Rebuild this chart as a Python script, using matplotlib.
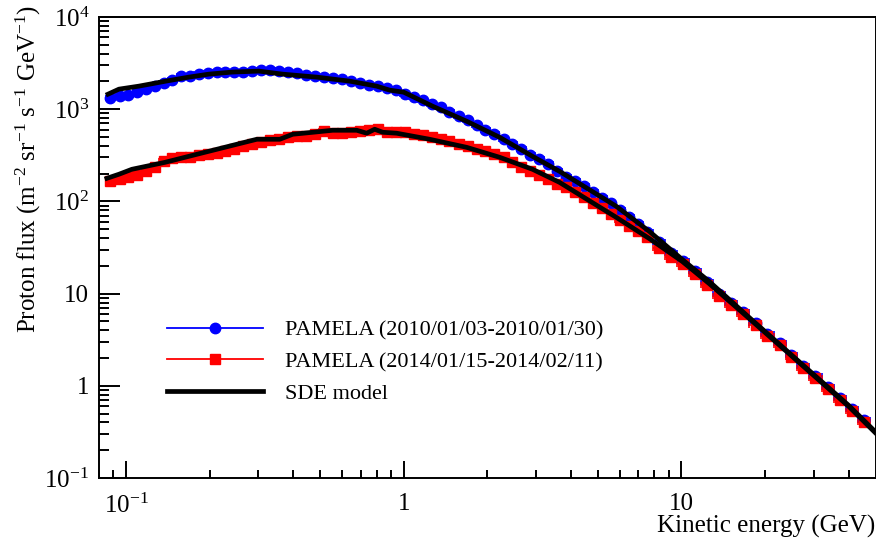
import numpy as np
import matplotlib
matplotlib.use("Agg")
import matplotlib.pyplot as plt
from matplotlib.lines import Line2D
from matplotlib.ticker import FixedLocator, FixedFormatter, LogLocator, NullFormatter

plt.rcParams['font.family'] = ['Liberation Serif', 'DejaVu Serif']
plt.rcParams['mathtext.fontset'] = 'custom'
plt.rcParams['mathtext.rm'] = 'Liberation Serif'
plt.rcParams['mathtext.it'] = 'Liberation Serif:italic'
plt.rcParams['mathtext.default'] = 'regular'

# PAMELA energy bins (GeV)
energia = [0.088, 0.095, 0.102, 0.110, 0.118, 0.127, 0.137, 0.147, 0.158, 0.170,
           0.183, 0.197, 0.212, 0.228, 0.246, 0.265, 0.285, 0.307, 0.331, 0.356,
           0.383, 0.413, 0.445, 0.479, 0.516, 0.556, 0.599, 0.645, 0.695, 0.749,
           0.807, 0.869, 0.936, 1.01, 1.09, 1.17, 1.26, 1.36, 1.46, 1.58,
           1.70, 1.83, 1.97, 2.12, 2.29, 2.46, 2.65, 2.86, 3.08, 3.32,
           3.57, 3.85, 4.15, 4.47, 4.81, 5.18, 5.58, 6.01, 6.48, 6.98,
           7.52, 8.31, 9.18, 10.1, 11.2, 12.4, 13.7, 15.1, 16.7, 18.5,
           20.4, 22.6, 24.9, 27.5, 30.4, 33.6, 37.1, 41.0, 45.3]

# PAMELA 2010/01/03-2010/01/30
flujo_2010 = [1318, 1385, 1420, 1530, 1650, 1778, 1918, 2066, 2285, 2285,
              2400, 2462, 2525, 2525, 2525, 2525, 2590, 2655, 2655, 2590,
              2525, 2462, 2342, 2285, 2228, 2173, 2119, 2015, 1918, 1823,
              1778, 1692, 1610, 1455, 1350, 1253, 1133, 1051, 927, 839,
              759, 670, 591, 535, 472, 417, 368, 316, 286, 253,
              212, 182, 165, 146, 125, 108, 95, 79.8, 67.0, 56.2,
              46.0, 36.7, 27.9, 22.3, 17.8, 13.2, 10.0, 7.98, 6.37, 4.84,
              3.67, 2.93, 2.17, 1.65, 1.28, 0.976, 0.741, 0.562, 0.427]

# PAMELA 2014/01/15-2014/02/11
flujo_2014 = [165, 173, 182, 192, 212, 234, 272, 293, 301, 301,
              316, 324, 332, 349, 367, 396, 417, 438, 460, 472,
              496, 509, 509, 535, 577, 549, 549, 562, 577, 591,
              606, 562, 562, 562, 535, 522, 496, 472, 449, 417,
              396, 367, 349, 324, 301, 265, 234, 212, 192, 173,
              153, 142, 125, 111, 95, 84, 72.2, 62.1, 53.5, 47.2,
              40.6, 31.6, 25.2, 20.7, 16.5, 12.5, 9.51, 7.59, 6.06, 4.60,
              3.49, 2.79, 2.07, 1.57, 1.22, 0.928, 0.705, 0.535, 0.406]

# SDE model curves
e_sde_2010 = [0.0862, 0.0944, 0.1113, 0.1393, 0.1685, 0.1988, 0.2406, 0.3009, 0.367, 0.4865,
              0.6393, 0.7997, 0.8906, 1.0, 1.271, 1.685, 2.215, 2.911, 3.64, 4.405,
              5.836, 7.672, 10.08, 12.61, 17.57, 26.58, 40.2, 50.0]
f_sde_2010 = [1455, 1650, 1778, 2015, 2228, 2400, 2525, 2590, 2400, 2228,
              2015, 1778, 1610, 1530, 1078, 741, 496, 308, 212, 149,
              88.3, 47.2, 23.4, 13.5, 5.49, 1.82, 0.606, 0.316]

e_sde_2014 = [0.0854, 0.0944, 0.1051, 0.1381, 0.1924, 0.296, 0.3581, 0.3988, 0.4708, 0.5554,
              0.6777, 0.7361, 0.7865, 0.8405, 0.9436, 1.24, 1.685, 2.215, 2.911, 3.64,
              4.405, 5.836, 7.672, 10.08, 12.61, 17.57, 26.58, 40.2, 50.0]
f_sde_2014 = [178, 197, 223, 265, 341, 472, 472, 535, 562, 591,
              591, 549, 606, 562, 549, 472, 386, 301, 223, 161,
              113, 67.0, 39.5, 22.3, 12.8, 5.35, 1.78, 0.591, 0.308]

# bin half widths from neighbouring energies
e = np.array(energia)
bordes = np.sqrt(e[:-1] * e[1:])
bordes = np.concatenate([[e[0] ** 2 / bordes[0]], bordes, [e[-1] ** 2 / bordes[-1]]])
xerr = [e - bordes[:-1], bordes[1:] - e]

fig = plt.figure(figsize=(8.76, 5.42), dpi=100)
ax = fig.add_axes([99 / 876, 64 / 542, 776.5 / 876, 461 / 542])

ax.errorbar(energia, flujo_2010, xerr=xerr, fmt='o', color='#0000ff', ms=7.5,
            elinewidth=1.2, capsize=2.5, capthick=1.2, zorder=2)
ax.errorbar(energia, flujo_2014, xerr=xerr, fmt='s', color='#ff0000', ms=6.5,
            elinewidth=1.2, capsize=2.5, capthick=1.2, zorder=2)
ax.plot(e_sde_2010, f_sde_2010, color='black', lw=3.4, zorder=3)
ax.plot(e_sde_2014, f_sde_2014, color='black', lw=3.4, zorder=3)

ax.set_xscale('log')
ax.set_yscale('log')
ax.set_xlim(0.08, 50)
ax.set_ylim(0.1, 1e4)

ax.xaxis.set_major_locator(FixedLocator([0.1, 1, 10]))
ax.xaxis.set_major_formatter(FixedFormatter([r'$10^{-1}$', '1', '10']))
ax.xaxis.set_minor_locator(LogLocator(base=10, subs=np.arange(2, 10)))
ax.xaxis.set_minor_formatter(NullFormatter())
ax.yaxis.set_major_locator(FixedLocator([0.1, 1, 10, 100, 1000, 10000]))
ax.yaxis.set_major_formatter(FixedFormatter([r'$10^{-1}$', '1', '10', r'$10^{2}$',
                                             r'$10^{3}$', r'$10^{4}$']))
ax.yaxis.set_minor_locator(LogLocator(base=10, subs=np.arange(2, 10)))
ax.yaxis.set_minor_formatter(NullFormatter())

ax.tick_params(axis='both', which='both', direction='in', top=False, right=False,
               width=1.4, labelsize=18)
ax.tick_params(axis='y', which='major', length=15, pad=7)
ax.tick_params(axis='y', which='minor', length=7.5)
ax.tick_params(axis='x', which='major', length=12, pad=11)
ax.tick_params(axis='x', which='minor', length=6)
for lado in ax.spines.values():
    lado.set_linewidth(1.4)

fig.text(28 / 876, 1 - 5 / 542,
         r'Proton flux (m$^{-2}$ sr$^{-1}$ s$^{-1}$ GeV$^{-1}$)',
         rotation=90, ha='center', va='top', fontsize=18)
fig.text(875 / 876, 1 - 526 / 542, 'Kinetic energy (GeV)',
         ha='right', va='center', fontsize=18)

manijas = [
    Line2D([], [], color='#0000ff', lw=1.3, marker='o', ms=7.5),
    Line2D([], [], color='#ff0000', lw=1.3, marker='s', ms=6.5),
    Line2D([], [], color='black', lw=3.4),
]
etiquetas = ['PAMELA (2010/01/03-2010/01/30)', 'PAMELA (2014/01/15-2014/02/11)', 'SDE model']
ax.legend(manijas, etiquetas, loc='upper left', bbox_to_anchor=(0.088, 0.343),
          frameon=False, fontsize=16, handlelength=4.3, handletextpad=1.0,
          labelspacing=0.5, borderpad=0, borderaxespad=0)

fig.savefig('out.png', dpi=100)
